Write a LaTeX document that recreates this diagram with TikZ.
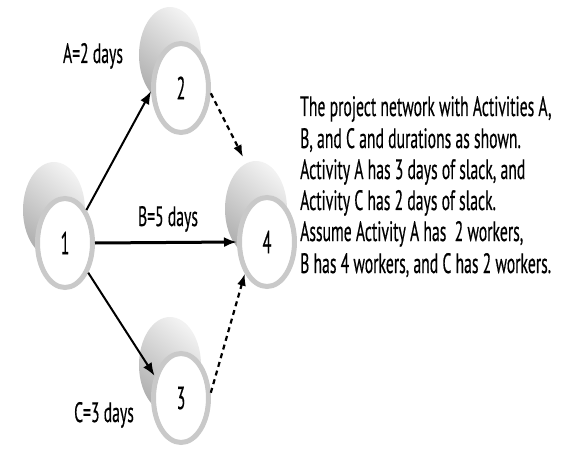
\documentclass[tikz,border=0pt]{standalone}
\usepackage{fontspec}
\setmainfont{PT Sans}
\newfontfamily\heavyfont[FakeBold=0.6]{PT Sans}
\usetikzlibrary{shapes.geometric,arrows.meta}
\newcommand\cond[1]{\scalebox{0.56}[1]{#1}}
\newcommand\condd[1]{\scalebox{0.5}[1]{#1}}
\tikzset{
  shadowblob/.style={ellipse, inner sep=0pt, minimum width=62pt, minimum height=96pt,
     top color=gray!10, bottom color=gray!62, shading angle=-40},
  netnode/.style={ellipse, inner sep=0pt, minimum width=55pt, minimum height=89pt,
     draw=gray!42, line width=5pt, fill=white, font=\heavyfont\fontsize{32}{32}\selectfont},
  lbl/.style={inner sep=0pt, anchor=base, font=\heavyfont\fontsize{28}{28}\selectfont},
  txt/.style={inner sep=0pt, anchor=base west, font=\heavyfont\fontsize{28}{28}\selectfont},
  solidarr/.style={line width=2pt, -{Latex[length=13pt,width=10pt]}},
  dasharr/.style={line width=2.2pt, dash pattern=on 5pt off 4pt, -{Latex[length=12pt,width=9pt]}}
}
\begin{document}
\begin{tikzpicture}[x=1pt,y=-1pt]
\useasboundingbox (0,0) rectangle (574,452);
% shadows
\node[shadowblob] (s1) at (54,210) {};
\node[shadowblob] (s2) at (170,55) {};
\node[shadowblob] (s4) at (256,209) {};
\node[shadowblob] (s3) at (170,365) {};
% nodes
\node[netnode] (n1) at (65,243) {\condd{1}};
\node[netnode] (n2) at (181,88) {\condd{2}};
\node[netnode] (n4) at (267,242) {\condd{4}};
\node[netnode] (n3) at (181,398) {\condd{3}};
% connectors
\draw[solidarr] (n1.57) -- (n2.186);
\draw[solidarr, line width=3pt] (n1.0) -- (n4.180);
\draw[solidarr] (n1.-52) -- (n3.140);
\draw[dasharr] (n2.-10) -- ([shift={(-24,-85)}]n4.center);
\draw[dasharr] (n3.10) -- (n4.-125);
% labels
\node[lbl] (la) at (93,63) {\cond{A=2 days}};
\node[lbl] (lb) at (168,226) {\cond{B=5 days}};
\node[lbl] (lc) at (104,422) {\cond{C=3 days}};
% text
\node[txt] (t1) at (300,116) {\cond{The project network with Activities A,}};
\node[txt] (t2) at (300,148) {\cond{B, and C and durations as shown.}};
\node[txt] (t3) at (300,179) {\cond{Activity A has 3 days of slack, and}};
\node[txt] (t4) at (300,210) {\cond{Activity C has 2 days of slack.}};
\node[txt] (t5) at (300,241) {\cond{Assume Activity A has\ \ 2 workers,}};
\node[txt] (t6) at (300,273) {\cond{B has 4 workers, and C has 2 workers.}};
\end{tikzpicture}
\end{document}
